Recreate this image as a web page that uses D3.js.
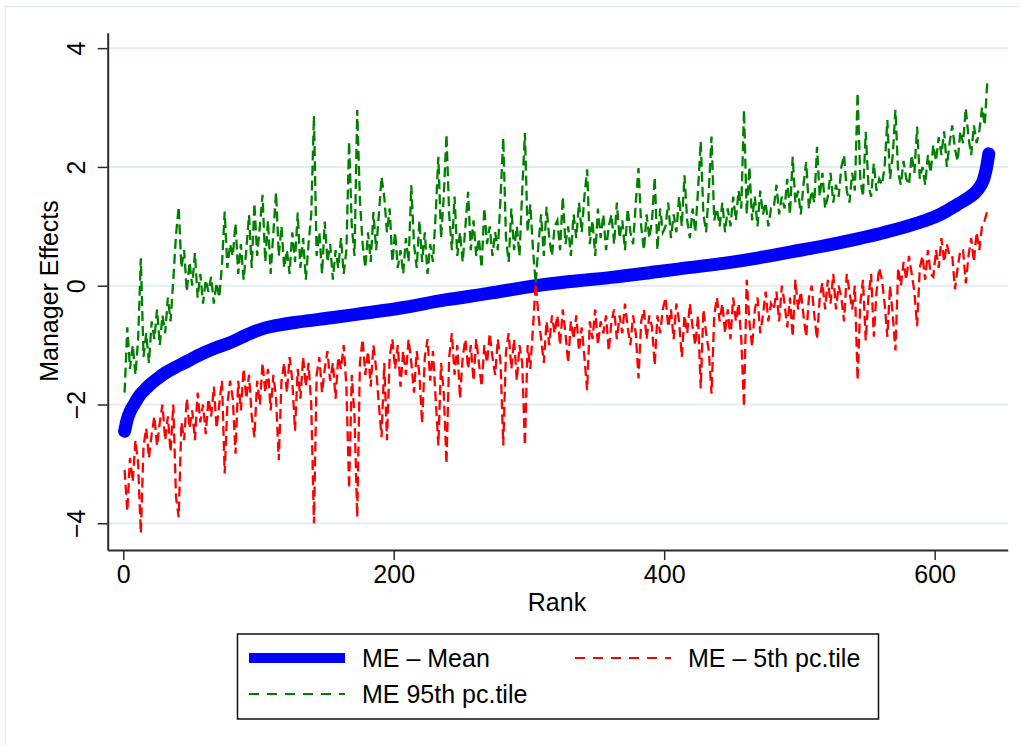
<!DOCTYPE html>
<html>
<head>
<meta charset="utf-8">
<script src="https://cdn.jsdelivr.net/npm/d3@7"></script>
<style>
  body { margin: 0; background: #fff; }
  svg { display: block; font-family: "Liberation Sans", Arial, Helvetica, sans-serif; }
</style>
</head>
<body>
<div id="container"></div>
<script>
// mean manager effect, read at points along the sorted curve
const meanRanks = [1, 3, 5, 8, 12, 16, 20, 25, 31, 38, 45, 56, 68, 80, 92, 105, 118, 130, 154, 179,
  204, 238, 270, 305, 330, 361, 396, 410, 445, 470, 494, 520, 543, 560, 575, 592, 605, 617, 625, 632,
  636, 638, 640];
const meanValues = [-2.45, -2.25, -2.12, -2.0, -1.85, -1.75, -1.66, -1.57, -1.47, -1.38, -1.3, -1.17, -1.05, -0.95, -0.82, -0.71, -0.65, -0.61, -0.54, -0.46,
  -0.38, -0.24, -0.13, 0.0, 0.07, 0.14, 0.24, 0.28, 0.38, 0.47, 0.57, 0.68, 0.79, 0.88, 0.97, 1.09, 1.21, 1.37, 1.48, 1.62,
  1.78, 1.95, 2.22];

// percentiles, one value every second rank (1, 3, 5, ... 639)
const pct95 = [
  -1.8,-0.7,-1.4,-1.0,-1.5,-0.9,0.46,-1.2,-0.8,-1.3,-0.6,-0.9,-0.4,-1.0,-0.5,-0.8,-0.2,-0.6,0.1,0.85,
  1.33,0.3,0.6,-0.1,0.4,0.0,0.55,-0.2,0.2,-0.3,0.1,-0.1,0.15,-0.3,0.05,-0.2,0.35,1.25,0.3,0.7,
  0.5,1.05,0.2,0.7,0.1,0.6,1.19,0.3,1.39,0.5,1.0,1.53,0.4,1.1,0.2,0.9,1.57,0.5,1.0,0.3,
  0.6,0.2,0.9,0.4,1.23,0.3,0.8,0.1,0.7,1.2,2.86,0.5,0.9,0.2,1.08,0.4,0.7,0.1,0.6,0.3,
  0.8,0.2,0.6,2.43,1.0,0.5,2.96,1.44,0.7,0.3,0.9,0.4,1.24,0.6,1.2,1.83,1.5,0.9,1.3,0.4,
  0.9,0.3,0.6,0.2,0.8,0.4,1.69,0.7,0.3,1.1,0.4,0.9,0.2,0.7,0.4,1.2,2.17,0.8,1.5,2.55,
  1.2,0.6,1.5,0.5,0.9,0.4,1.0,1.58,0.6,1.1,0.5,0.8,0.3,1.31,0.7,1.0,0.5,0.9,0.6,1.5,
  2.49,0.8,0.4,1.3,0.6,1.0,0.5,1.6,2.57,0.9,1.37,0.6,0.04,0.7,1.2,0.5,1.33,0.8,0.5,1.0,
  1.1,0.6,1.5,0.7,1.0,0.5,1.2,0.8,1.4,0.9,1.5,1.96,0.7,1.1,0.5,1.3,0.8,1.2,0.6,1.0,
  1.2,0.7,1.4,0.8,1.1,0.6,1.3,0.9,0.7,1.4,1.98,1.0,0.6,1.2,0.8,1.1,1.83,0.6,1.3,0.9,
  1.0,1.4,0.8,1.2,0.9,1.5,1.0,1.86,1.1,0.8,1.3,0.9,1.6,2.43,1.2,0.9,1.6,2.51,1.1,1.3,
  1.0,1.4,0.9,1.3,1.0,1.5,1.1,1.6,1.3,2.96,1.2,2.0,1.1,1.5,1.0,1.6,1.2,1.4,1.0,1.3,
  1.3,1.7,1.2,1.5,1.3,1.8,1.2,2.17,1.4,1.6,1.2,1.7,2.08,1.3,1.6,1.4,2.34,1.5,1.9,1.3,
  1.5,1.9,1.4,1.7,1.5,2.0,2.2,1.6,1.4,1.9,1.6,3.25,1.8,1.5,2.59,1.7,1.5,2.06,1.6,1.8,
  1.7,2.0,2.79,1.8,2.2,2.96,1.9,1.7,2.1,1.8,1.7,2.2,1.9,2.68,1.8,2.0,1.7,2.2,1.9,2.37,
  2.1,2.5,2.2,2.6,2.0,2.4,2.7,2.3,2.1,2.6,2.4,2.99,2.5,2.2,2.7,2.4,2.6,3.0,2.7,3.47
];
const pct5 = [
  -3.1,-3.8,-2.9,-3.3,-2.6,-3.0,-4.17,-2.7,-2.4,-2.9,-2.5,-2.2,-2.7,-2.3,-2.0,-2.6,-2.2,-2.8,-2.0,-3.56,
  -3.9,-2.3,-2.6,-1.9,-2.4,-2.1,-2.6,-1.8,-2.3,-2.0,-2.5,-1.9,-2.2,-1.7,-2.4,-2.0,-1.6,-3.16,-2.0,-1.6,
  -1.9,-2.83,-1.6,-2.1,-1.4,-1.9,-1.5,-2.2,-2.55,-1.6,-2.0,-1.3,-1.8,-1.4,-2.1,-1.5,-1.9,-2.94,-1.6,-1.3,
  -1.8,-1.2,-1.6,-2.44,-1.4,-1.9,-1.2,-1.7,-1.3,-2.0,-4.0,-1.5,-1.2,-1.8,-1.4,-1.1,-1.6,-1.3,-1.9,-1.2,
  -1.4,-1.0,-1.7,-3.42,-1.5,-2.2,-3.9,-1.3,-0.9,-1.5,-1.1,-1.7,-1.0,-1.4,-2.0,-2.55,-1.3,-2.6,-1.2,-0.9,
  -1.4,-1.0,-1.7,-1.1,-1.5,-0.9,-1.3,-1.8,-1.1,-1.5,-2.32,-1.2,-0.9,-1.6,-1.1,-1.9,-2.69,-1.3,-1.8,-3.0,
  -1.2,-0.8,-1.5,-1.0,-1.9,-1.2,-0.9,-1.4,-1.0,-1.6,-0.9,-1.3,-1.7,-1.0,-1.3,-0.8,-1.2,-1.5,-0.9,-1.3,
  -2.69,-1.1,-0.8,-1.4,-0.9,-1.6,-1.0,-1.3,-2.69,-1.0,-1.4,-0.7,0.04,-0.5,-0.9,-1.3,-0.6,-1.0,-0.5,-0.8,
  -0.5,-1.0,-0.4,-0.8,-1.3,-0.6,-0.9,-0.5,-1.1,-0.7,-1.2,-1.76,-0.6,-0.9,-0.4,-1.0,-0.6,-0.8,-0.5,-1.1,
  -0.6,-0.4,-0.9,-0.5,-0.8,-0.3,-0.7,-1.0,-0.5,-0.8,-1.56,-0.6,-0.4,-0.9,-0.5,-0.7,-1.34,-0.5,-0.8,-0.4,
  -0.2,-0.7,-0.4,-0.9,-0.3,-0.6,-1.2,-0.5,-0.8,-0.3,-0.7,-1.0,-0.5,-1.73,-0.4,-0.8,-1.1,-1.82,-0.5,-0.2,
  -0.6,-0.3,-0.8,-0.4,-0.9,-0.2,-0.6,-0.3,-0.9,-2.04,0.1,-0.6,-1.03,-0.4,-0.2,-0.8,-0.5,-0.1,-0.6,-0.3,
  -0.4,-0.1,-0.6,0.0,-0.3,-0.7,-0.2,-0.86,0.1,-0.4,-0.1,-0.5,-0.86,-0.2,0.0,-0.5,-0.9,-0.2,0.05,-0.4,
  0.1,-0.3,0.2,-0.4,0.0,-0.2,-0.6,0.2,-0.1,-0.4,0.0,-1.59,-0.3,0.1,-0.92,-0.2,0.2,-0.86,-0.1,0.3,
  0.1,-0.3,-0.86,0.0,-0.5,-1.09,0.3,0.0,0.4,0.1,0.5,0.2,-0.1,-0.68,0.3,0.5,0.1,0.6,0.2,0.15,
  0.6,0.3,0.8,0.4,0.7,0.5,0.5,-0.06,0.3,0.6,0.6,0.04,0.5,0.8,0.4,0.9,0.6,1.0,1.1,1.27
];

const xTicks = [0, 200, 400, 600];
const yTicks = [-4, -2, 0, 2, 4];
const legendLabels = ['ME \u2013 Mean', 'ME \u2013 5th pc.tile', 'ME 95th pc.tile'];

const width = 1020, height = 746;
const fontSize = 25;
const gridColor = '#e3ecef';
const axisColor = '#2b2b2b';

const svg = d3.select('#container').append('svg')
  .attr('width', width)
  .attr('height', height);

// stata graph region outline
svg.append('rect')
  .attr('x', 5.5).attr('y', 6.5)
  .attr('width', 1040).attr('height', 800)
  .attr('fill', 'none')
  .attr('stroke', '#e6eef0')
  .attr('stroke-width', 1.5);

const x = d3.scaleLinear().domain([-11.5, 654]).range([107.7, 1007.7]);
const y = d3.scaleLinear().domain([-4.45, 4.26]).range([550, 32.7]);

// gridlines
svg.append('g')
  .selectAll('line')
  .data(yTicks).enter()
  .append('line')
  .attr('x1', x.range()[0]).attr('x2', x.range()[1])
  .attr('y1', d => y(d)).attr('y2', d => y(d))
  .attr('stroke', gridColor)
  .attr('stroke-width', 2);

const pctLine = d3.line()
  .x((d, i) => x(1 + 2 * i))
  .y(d => y(d));

const meanLine = d3.line()
  .x(d => x(d[0]))
  .y(d => y(d[1]))
  .curve(d3.curveMonotoneX);

svg.append('path')
  .datum(meanRanks.map((r, i) => [r, meanValues[i]]))
  .attr('d', meanLine)
  .attr('fill', 'none')
  .attr('stroke', '#0000ff')
  .attr('stroke-width', 13)
  .attr('stroke-linecap', 'round')
  .attr('stroke-linejoin', 'round');

svg.append('path')
  .datum(pct5)
  .attr('d', pctLine)
  .attr('fill', 'none')
  .attr('stroke', '#ff0000')
  .attr('stroke-width', 2.3)
  .attr('stroke-dasharray', '10,5');

svg.append('path')
  .datum(pct95)
  .attr('d', pctLine)
  .attr('fill', 'none')
  .attr('stroke', '#008000')
  .attr('stroke-width', 2.3)
  .attr('stroke-dasharray', '10,5');

// axes
const xAxis = svg.append('g')
  .attr('transform', `translate(0,${y.range()[0]})`)
  .call(d3.axisBottom(x).tickValues(xTicks).tickSize(10).tickSizeOuter(0));
xAxis.select('.domain').attr('stroke', axisColor).attr('stroke-width', 2);
xAxis.selectAll('.tick line').attr('stroke', axisColor).attr('stroke-width', 1.5);
xAxis.selectAll('.tick text')
  .attr('y', 33).attr('dy', 0)
  .attr('fill', '#000')
  .style('font-size', fontSize + 'px')
  .style('font-family', '"Liberation Sans", Arial, sans-serif');

const yAxis = svg.append('g')
  .attr('transform', `translate(${x.range()[0]},0)`)
  .call(d3.axisLeft(y).tickValues(yTicks).tickSize(10).tickSizeOuter(0)
    .tickFormat(d => d < 0 ? '\u2212' + Math.abs(d) : String(d)));
yAxis.select('.domain').attr('stroke', axisColor).attr('stroke-width', 2);
yAxis.selectAll('.tick line').attr('stroke', axisColor).attr('stroke-width', 1.5);
yAxis.selectAll('.tick text')
  .attr('x', 0).attr('y', -22.5).attr('dy', 0)
  .attr('text-anchor', 'middle')
  .attr('transform', 'rotate(-90)')
  .attr('fill', '#000')
  .style('font-size', fontSize + 'px')
  .style('font-family', '"Liberation Sans", Arial, sans-serif');

svg.append('text')
  .attr('x', 557).attr('y', 611)
  .attr('text-anchor', 'middle')
  .style('font-size', fontSize + 'px')
  .text('Rank');

svg.append('text')
  .attr('transform', 'translate(57.5,291) rotate(-90)')
  .attr('text-anchor', 'middle')
  .style('font-size', fontSize + 'px')
  .text('Manager Effects');

// legend
const legend = svg.append('g');
legend.append('rect')
  .attr('x', 237.5).attr('y', 634)
  .attr('width', 641).attr('height', 85)
  .attr('fill', '#fff')
  .attr('stroke', '#111')
  .attr('stroke-width', 1.5);

const legendItems = [
  { label: legendLabels[0], color: '#0000ff', width: 10, dash: null, x: 249, y: 658 },
  { label: legendLabels[1], color: '#ff0000', width: 2, dash: '10,8', x: 575, y: 658 },
  { label: legendLabels[2], color: '#008000', width: 2, dash: '10,8', x: 249, y: 694 }
];

legendItems.forEach(item => {
  legend.append('line')
    .attr('x1', item.x).attr('x2', item.x + 96)
    .attr('y1', item.y).attr('y2', item.y)
    .attr('stroke', item.color)
    .attr('stroke-width', item.width)
    .attr('stroke-dasharray', item.dash);
  legend.append('text')
    .attr('x', item.x + 113).attr('y', item.y + 9)
    .style('font-size', fontSize + 'px')
    .text(item.label);
});
</script>
</body>
</html>
